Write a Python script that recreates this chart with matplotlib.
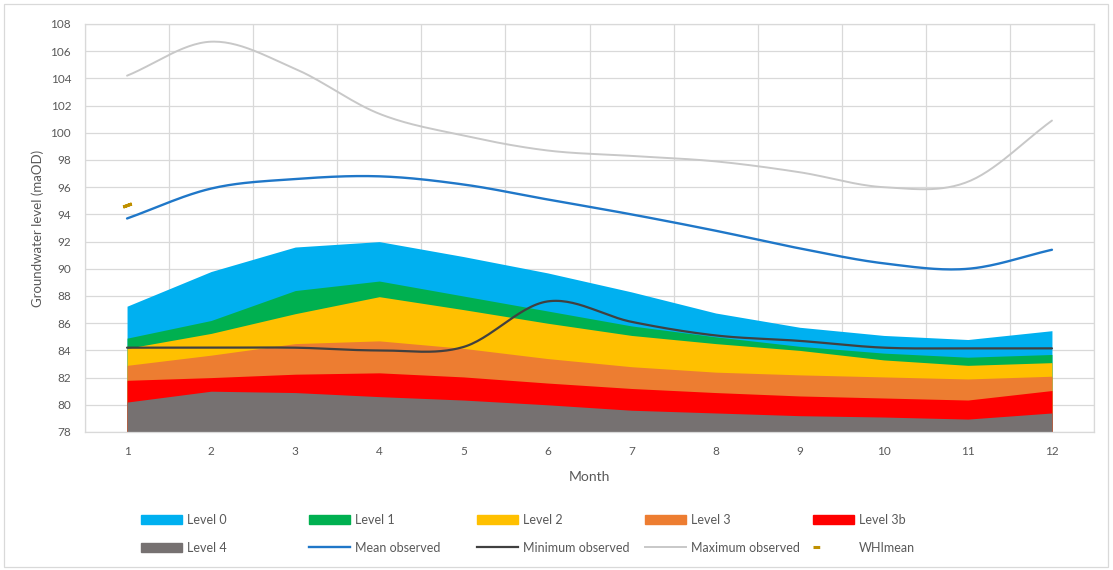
import numpy as np
import matplotlib
matplotlib.use("Agg")
import matplotlib.pyplot as plt
from matplotlib.lines import Line2D
from matplotlib.patches import Patch, Rectangle

plt.rcParams['font.family'] = ['Lato', 'DejaVu Sans']

months = np.arange(1, 13)

# area series (top of each band, filled down to 78)
level0 = [87.25, 89.8, 91.6, 92.0, 90.9, 89.7, 88.3, 86.75, 85.7, 85.1, 84.8, 85.45]
level1 = [84.9, 86.2, 88.4, 89.1, 88.0, 86.9, 85.8, 85.0, 84.3, 83.8, 83.5, 83.7]
level2 = [84.15, 85.25, 86.7, 87.95, 87.0, 86.0, 85.1, 84.5, 84.0, 83.3, 82.9, 83.1]
level3 = [82.9, 83.65, 84.5, 84.7, 84.15, 83.4, 82.8, 82.4, 82.2, 82.05, 81.9, 82.1]
level3b = [81.8, 82.0, 82.25, 82.35, 82.05, 81.6, 81.2, 80.9, 80.65, 80.5, 80.35, 81.05]
level4 = [80.2, 81.0, 80.9, 80.6, 80.35, 80.0, 79.6, 79.4, 79.2, 79.1, 78.95, 79.4]

# observed lines
mean_obs = [93.7, 95.9, 96.6, 96.8, 96.2, 95.1, 94.0, 92.8, 91.5, 90.4, 90.0, 91.4]
min_obs = [84.2, 84.2, 84.2, 84.0, 84.25, 87.6, 86.1, 85.1, 84.7, 84.2, 84.15, 84.15]
max_obs = [104.2, 106.7, 104.7, 101.4, 99.8, 98.7, 98.3, 97.9, 97.1, 96.0, 96.4, 100.9]
whi_mean = [94.7]


def smooth(x, y, n=30):
    # catmull-rom style curve, like excel's "smoothed line"
    x = np.asarray(x, float)
    y = np.asarray(y, float)
    px = np.concatenate([[2 * x[0] - x[1]], x, [2 * x[-1] - x[-2]]])
    py = np.concatenate([[2 * y[0] - y[1]], y, [2 * y[-1] - y[-2]]])
    xs, ys = [], []
    t = np.linspace(0, 1, n, endpoint=False)
    for i in range(1, len(px) - 2):
        p0, p1, p2, p3 = py[i - 1], py[i], py[i + 1], py[i + 2]
        m1 = (p2 - p0) / 2
        m2 = (p3 - p1) / 2
        h00 = 2 * t**3 - 3 * t**2 + 1
        h10 = t**3 - 2 * t**2 + t
        h01 = -2 * t**3 + 3 * t**2
        h11 = t**3 - t**2
        xs.append(px[i] + t * (px[i + 1] - px[i]))
        ys.append(h00 * p1 + h10 * m1 + h01 * p2 + h11 * m2)
    xs.append([x[-1]])
    ys.append([y[-1]])
    return np.concatenate(xs), np.concatenate(ys)


fig = plt.figure(figsize=(11.13, 5.70), dpi=100)
ax = fig.add_axes([85 / 1113, 1 - 432 / 570, (1094 - 85) / 1113, (432 - 24) / 570])

areas = [("Level 0", level0, "#00B0F0"),
         ("Level 1", level1, "#00B050"),
         ("Level 2", level2, "#FFC000"),
         ("Level 3", level3, "#ED7D31"),
         ("Level 3b", level3b, "#FF0000"),
         ("Level 4", level4, "#767171")]
for name, vals, col in areas:
    ax.fill_between(months, 78, vals, color=col, lw=0, zorder=2)

lines = [("Mean observed", mean_obs, "#1F77C8", 1.7),
         ("Minimum observed", min_obs, "#404040", 1.6),
         ("Maximum observed", max_obs, "#C8C8C8", 1.4)]
for name, vals, col, lw in lines:
    sx, sy = smooth(months, vals)
    ax.plot(sx, sy, color=col, lw=lw, zorder=3, solid_capstyle='round')

ax.plot(months[:1], whi_mean, ls='none', marker=(2, 2, -70), ms=6.5,
        mew=2.2, color="#BF9000", zorder=4)

ax.set_xlim(0.5, 12.5)
ax.set_ylim(78, 108)
ax.set_yticks(np.arange(78, 109, 2))
ax.set_xticks(months)
ax.set_xticks(np.arange(0.5, 13, 1), minor=True)
ax.grid(True, which='major', axis='y', color='#D9D9D9', lw=0.9, zorder=0)
ax.grid(True, which='minor', axis='x', color='#D9D9D9', lw=0.9, zorder=0)
ax.tick_params(axis='both', which='both', length=0, labelsize=8.5, colors='#595959')
ax.tick_params(axis='y', pad=10)
ax.tick_params(axis='x', pad=10)
for s in ax.spines.values():
    s.set_color('#D9D9D9')
    s.set_linewidth(0.9)
ax.set_axisbelow(True)
ax.set_xlabel("Month", fontsize=10, color='#595959', labelpad=10)
ax.set_ylabel("Groundwater level (maOD)", fontsize=9.5, color='#595959', labelpad=5)

# legend, laid out as five even columns
cols = [
    [Patch(color="#00B0F0", label="Level 0"), Patch(color="#767171", label="Level 4")],
    [Patch(color="#00B050", label="Level 1"), Line2D([], [], color="#1F77C8", lw=1.7, label="Mean observed")],
    [Patch(color="#FFC000", label="Level 2"), Line2D([], [], color="#404040", lw=1.6, label="Minimum observed")],
    [Patch(color="#ED7D31", label="Level 3"), Line2D([], [], color="#C8C8C8", lw=1.4, label="Maximum observed")],
    [Patch(color="#FF0000", label="Level 3b"), Line2D([], [], color="#BF9000", lw=2.2, ls=(0, (2.2, 60)), label="WHImean")],
]
for i, hs in enumerate(cols):
    x0 = (141 + i * 168) / 1113
    leg = fig.legend(handles=hs, loc='upper left', bbox_to_anchor=(x0, 1 - 514 / 570),
                     frameon=False, fontsize=9, handlelength=3.3, handleheight=0.7,
                     handletextpad=0.4, labelspacing=1.25, borderpad=0, borderaxespad=0)
    for t in leg.get_texts():
        t.set_color('#595959')

fig.add_artist(Rectangle((4 / 1113, 3 / 570), 1104 / 1113, 563 / 570, transform=fig.transFigure,
                         fill=False, ec='#D9D9D9', lw=0.9))

fig.savefig("out.png", dpi=100)
